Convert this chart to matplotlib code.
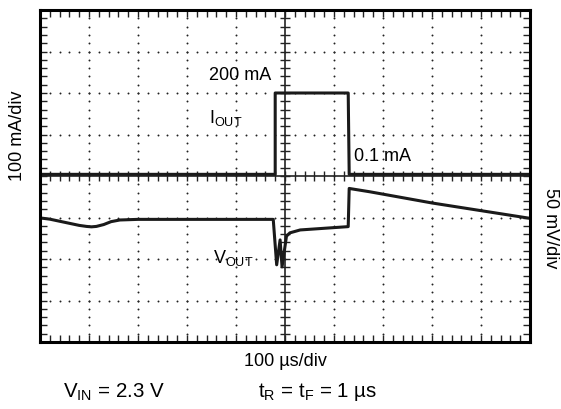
import numpy as np
import matplotlib
matplotlib.use("Agg")
import matplotlib.pyplot as plt

plt.rcParams['font.family'] = ['Liberation Sans', 'DejaVu Sans']
plt.rcParams['mathtext.fontset'] = 'custom'
plt.rcParams['mathtext.rm'] = 'Liberation Sans'

# scope screen in divisions: 10 x 8
# load current trace (divisions, 100 mA/div)
iout_t = [0.0, 4.80, 4.80, 6.29, 6.31, 10.0]
iout_y = [4.04, 4.04, 6.0, 6.0, 4.04, 4.04]

# output voltage trace (divisions, 50 mV/div)
vout_t = [0.0, 0.2, 0.4, 0.6, 0.8, 0.95, 1.05, 1.15, 1.3, 1.45, 1.63, 2.0,
          3.0, 4.76, 4.83, 4.90, 4.94, 5.03, 5.10, 5.31, 5.8, 6.29, 6.31,
          6.73, 8.0, 10.0]
vout_y = [2.99, 2.96, 2.91, 2.86, 2.81, 2.785, 2.775, 2.785, 2.83, 2.90,
          2.94, 2.955, 2.955, 2.955, 1.86, 2.46, 1.81, 2.55, 2.63, 2.70,
          2.74, 2.78, 3.70, 3.62, 3.35, 2.98]

fig = plt.figure(figsize=(5.61, 4.09), dpi=100)
ax = fig.add_axes([40 / 561, 67 / 409, 490 / 561, 332 / 409])
ax.set_xlim(0, 10)
ax.set_ylim(0, 8)

# dotted graticule, one dot per minor step
for gx in range(1, 10):
    if gx == 5:
        continue
    yy = np.arange(0, 8.01, 0.2)
    ax.plot(np.full_like(yy, gx), yy, ls='none', marker='o', ms=1.4,
            color='#222222', mew=0)
for gy in range(1, 8):
    if gy == 4:
        continue
    xx = np.arange(0, 10.01, 0.2)
    ax.plot(xx, np.full_like(xx, gy), ls='none', marker='o', ms=1.4,
            color='#222222', mew=0)

# center cross with ticks
ax.axvline(5, color='#222222', lw=1.2)
ax.axhline(4, color='#222222', lw=1.2)
cy = np.arange(0, 8.01, 0.2)
ax.plot(np.full_like(cy, 5), cy, ls='none', marker='_', ms=7,
        color='#222222', mew=1.0)
cx = np.arange(0, 10.01, 0.2)
ax.plot(cx, np.full_like(cx, 4), ls='none', marker='|', ms=7,
        color='#222222', mew=1.0)

ax.plot(iout_t, iout_y, color='#1a1a1a', lw=2.2)
ax.plot(vout_t, vout_y, color='#1a1a1a', lw=2.2)

ax.set_xticks(np.arange(0, 10.01, 1))
ax.set_xticks(np.arange(0, 10.01, 0.2), minor=True)
ax.set_yticks(np.arange(0, 8.01, 1))
ax.set_yticks(np.arange(0, 8.01, 0.2), minor=True)
ax.tick_params(which='both', direction='in', length=5, width=1.0,
               top=True, right=True, labelbottom=False, labelleft=False,
               color='#222222')
for s in ax.spines.values():
    s.set_linewidth(2.2)

fs = 13
ax.text(3.45, 6.43, '200 mA', fontsize=fs, va='center')
ax.text(3.45, 5.40, r'I$_{\mathregular{OUT}}$', fontsize=fs, va='center')
ax.text(6.41, 4.48, '0.1 mA', fontsize=fs, va='center')
ax.text(3.53, 2.03, r'V$_{\mathregular{OUT}}$', fontsize=fs, va='center')

fig.text(18 / 561, 1 - 136 / 409, '100 mA/div', rotation=90,
         fontsize=fs, ha='center', va='center')
fig.text(550 / 561, 1 - 228 / 409, '50 mV/div', rotation=270,
         fontsize=fs, ha='center', va='center')
fig.text(285 / 561, 1 - 362 / 409, '100 \u00b5s/div', fontsize=fs,
         ha='center', va='center')
fig.text(63 / 561, 1 - 392 / 409, r'V$_{\mathregular{IN}}$ = 2.3 V',
         fontsize=fs + 1.8, ha='left', va='center')
fig.text(258 / 561, 1 - 392 / 409,
         't$_{\\mathregular{R}}$ = t$_{\\mathregular{F}}$ = 1 \u00b5s',
         fontsize=fs + 1.8, ha='left', va='center')

fig.savefig('out.png', dpi=100)
